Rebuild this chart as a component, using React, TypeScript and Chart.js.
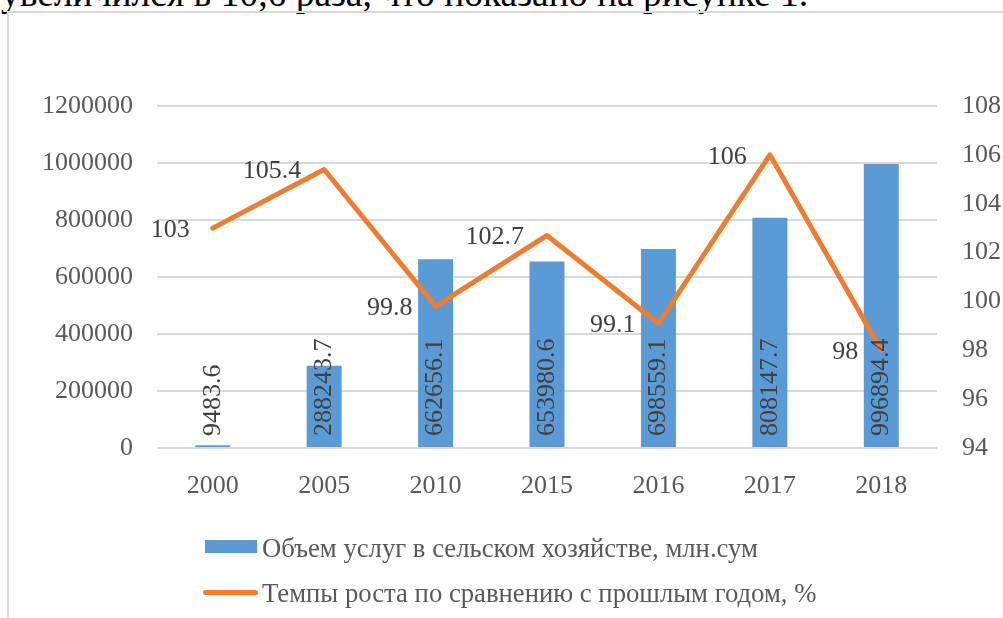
import { useEffect, useRef } from 'react';
import { Chart, registerables } from 'chart.js';

Chart.register(...registerables);

const categories = ['2000', '2005', '2010', '2015', '2016', '2017', '2018'];
const volumeValues = [9483.6, 288243.7, 662656.1, 653980.6, 698559.1, 808147.7, 996894.4];
const growthValues = [103, 105.4, 99.8, 102.7, 99.1, 106, 98];
const volumeLabel = 'Объем услуг в сельском хозяйстве, млн.сум';
const growthLabel = 'Темпы роста по сравнению с прошлым годом, %';
const headerText = 'увеличился в 10,6 раза, что показано на рисунке 1.';

const FONT = '"Liberation Serif", "Times New Roman", serif';
const BLUE = '#5B9BD5';
const ORANGE = '#ED7D31';
const TICK = '#595959';
const LABEL = '#404040';

const valueLabels = {
  id: 'valueLabels',
  afterDatasetsDraw(chart: any) {
    const ctx = chart.ctx;
    ctx.save();
    ctx.font = `26px ${FONT}`;
    ctx.fillStyle = LABEL;
    const barMeta = chart.getDatasetMeta(0);
    barMeta.data.forEach((el: any, i: number) => {
      const p = el.getProps(['x', 'base'], true);
      ctx.save();
      ctx.translate(p.x, p.base - 11);
      ctx.rotate(-Math.PI / 2);
      ctx.textAlign = 'left';
      ctx.textBaseline = 'middle';
      ctx.fillText(String(volumeValues[i]), 0, 0);
      ctx.restore();
    });
    const lineMeta = chart.getDatasetMeta(1);
    lineMeta.data.forEach((el: any, i: number) => {
      ctx.textAlign = 'right';
      ctx.textBaseline = 'middle';
      ctx.fillText(String(growthValues[i]), el.x - 23, el.y + 2);
    });
    ctx.restore();
  },
};

export default function App() {
  const ref = useRef<HTMLCanvasElement | null>(null);

  useEffect(() => {
    if (!ref.current) return;
    const chart = new Chart(ref.current, {
      type: 'bar',
      data: {
        labels: categories,
        datasets: [
          {
            type: 'bar',
            label: volumeLabel,
            data: volumeValues,
            backgroundColor: BLUE,
            yAxisID: 'y',
            categoryPercentage: 1,
            barPercentage: 0.314,
            order: 2,
          },
          {
            type: 'line',
            label: growthLabel,
            data: growthValues,
            borderColor: ORANGE,
            backgroundColor: ORANGE,
            borderWidth: 5,
            pointRadius: 0,
            tension: 0,
            borderCapStyle: 'round',
            borderJoinStyle: 'round',
            yAxisID: 'y1',
            order: 1,
          } as any,
        ],
      },
      options: {
        animation: false,
        responsive: false,
        maintainAspectRatio: false,
        devicePixelRatio: 1,
        layout: { padding: { top: 106, left: 0, right: 0, bottom: 0 } },
        plugins: {
          legend: { display: false },
          tooltip: { enabled: false },
        },
        scales: {
          x: {
            offset: true,
            grid: { display: false },
            border: { display: false },
            ticks: {
              color: TICK,
              font: { family: FONT, size: 26 },
              padding: 15,
              maxRotation: 0,
              autoSkip: false,
            },
            afterFit: (s: any) => {
              s.height = 170;
            },
          },
          y: {
            position: 'left',
            min: 0,
            max: 1200000,
            ticks: {
              stepSize: 200000,
              color: TICK,
              font: { family: FONT, size: 26 },
              padding: 24,
              callback: (v: any) => String(v),
            },
            grid: { color: '#d9d9d9', lineWidth: 2, drawTicks: false },
            border: { display: false },
            afterFit: (s: any) => {
              s.width = 157;
            },
          },
          y1: {
            position: 'right',
            min: 94,
            max: 108,
            ticks: {
              stepSize: 2,
              color: TICK,
              font: { family: FONT, size: 26 },
              padding: 25,
              callback: (v: any) => String(v),
            },
            grid: { display: false, drawTicks: false },
            border: { display: false },
            afterFit: (s: any) => {
              s.width = 66;
            },
          },
        },
      } as any,
      plugins: [valueLabels],
    });
    return () => chart.destroy();
  }, []);

  const textStyle: any = {
    position: 'absolute',
    fontFamily: FONT,
    whiteSpace: 'nowrap',
  };

  return (
    <div
      style={{
        position: 'fixed',
        left: 0,
        top: 0,
        width: 1003,
        height: 618,
        overflow: 'hidden',
        background: '#ffffff',
      }}
    >
      <div style={{ ...textStyle, left: 1, top: -25, fontSize: 37.5, lineHeight: '37.5px', color: '#000' }}>
        {headerText}
      </div>
      <div
        style={{
          position: 'absolute',
          left: 7,
          top: 11,
          width: 1100,
          height: 700,
          borderLeft: '2px solid #d9d9d9',
          borderTop: '2px solid #d9d9d9',
        }}
      />
      <canvas ref={ref} width={1003} height={618} style={{ position: 'absolute', left: 0, top: 0 }} />
      <div style={{ position: 'absolute', left: 205, top: 540, width: 52, height: 13, background: BLUE }} />
      <div style={{ ...textStyle, left: 262, top: 535, fontSize: 26.7, lineHeight: '26px', color: TICK }}>
        {volumeLabel}
      </div>
      <div
        style={{
          position: 'absolute',
          left: 203,
          top: 590,
          width: 55,
          height: 5,
          borderRadius: 3,
          background: ORANGE,
        }}
      />
      <div style={{ ...textStyle, left: 262, top: 580, fontSize: 26.7, lineHeight: '26px', color: TICK }}>
        {growthLabel}
      </div>
    </div>
  );
}
